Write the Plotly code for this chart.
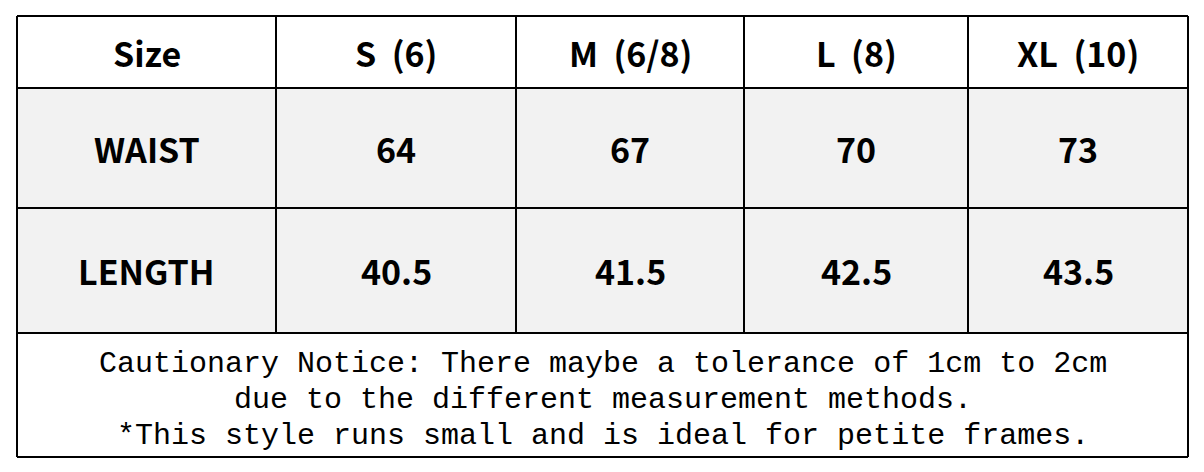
import plotly.graph_objects as go

headers = ["Size", "S (6)", "M (6/8)", "L (8)", "XL (10)"]
row_labels = ["WAIST", "LENGTH"]
waist = ["64", "67", "70", "73"]
length = ["40.5", "41.5", "42.5", "43.5"]
notice = ["Cautionary Notice: There maybe a tolerance of 1cm to 2cm",
          "due to the different measurement methods.",
          "*This style runs small and is ideal for petite frames."]

col_edges = [17, 276, 516, 744, 968, 1188]
row_edges = [16, 88, 208, 333, 457]

fig = go.Figure()
shapes = []
ann = []
for r in (1, 2):
    shapes.append(dict(type="rect", x0=col_edges[0], x1=col_edges[-1], y0=row_edges[r], y1=row_edges[r+1],
                       fillcolor="#f2f2f2", line=dict(width=0), layer="below"))
for y in row_edges:
    shapes.append(dict(type="line", x0=col_edges[0], x1=col_edges[-1], y0=y, y1=y, line=dict(color="black", width=2)))
for x in col_edges:
    y1 = row_edges[-1] if x in (col_edges[0], col_edges[-1]) else row_edges[3]
    shapes.append(dict(type="line", x0=x, x1=x, y0=row_edges[0], y1=y1, line=dict(color="black", width=2)))

rows = [headers, [row_labels[0]] + waist, [row_labels[1]] + length]
font = dict(family="Noto Sans CJK SC", size=34, color="black")
for r, row in enumerate(rows):
    yc = (row_edges[r] + row_edges[r+1]) / 2
    for c, txt in enumerate(row):
        xc = (col_edges[c] + col_edges[c+1]) / 2
        ann.append(dict(x=xc, y=yc, text="<b>%s</b>" % txt.replace(" ", "&nbsp;&nbsp;"), showarrow=False,
                        xanchor="center", yanchor="middle", font=font))
for i, line in enumerate(notice):
    ann.append(dict(x=(col_edges[0] + col_edges[-1]) / 2, y=364 + 36 * i, text=line, showarrow=False,
                    xanchor="center", yanchor="middle",
                    font=dict(family="Liberation Mono", size=30, color="black")))

fig.update_layout(width=1204, height=472, margin=dict(l=0, r=0, t=0, b=0),
                  paper_bgcolor="white", plot_bgcolor="white", shapes=shapes, annotations=ann,
                  xaxis=dict(range=[8, 1212], visible=False, fixedrange=True),
                  yaxis=dict(range=[480, 8], visible=False, fixedrange=True), showlegend=False)
fig.write_html("out.html")
